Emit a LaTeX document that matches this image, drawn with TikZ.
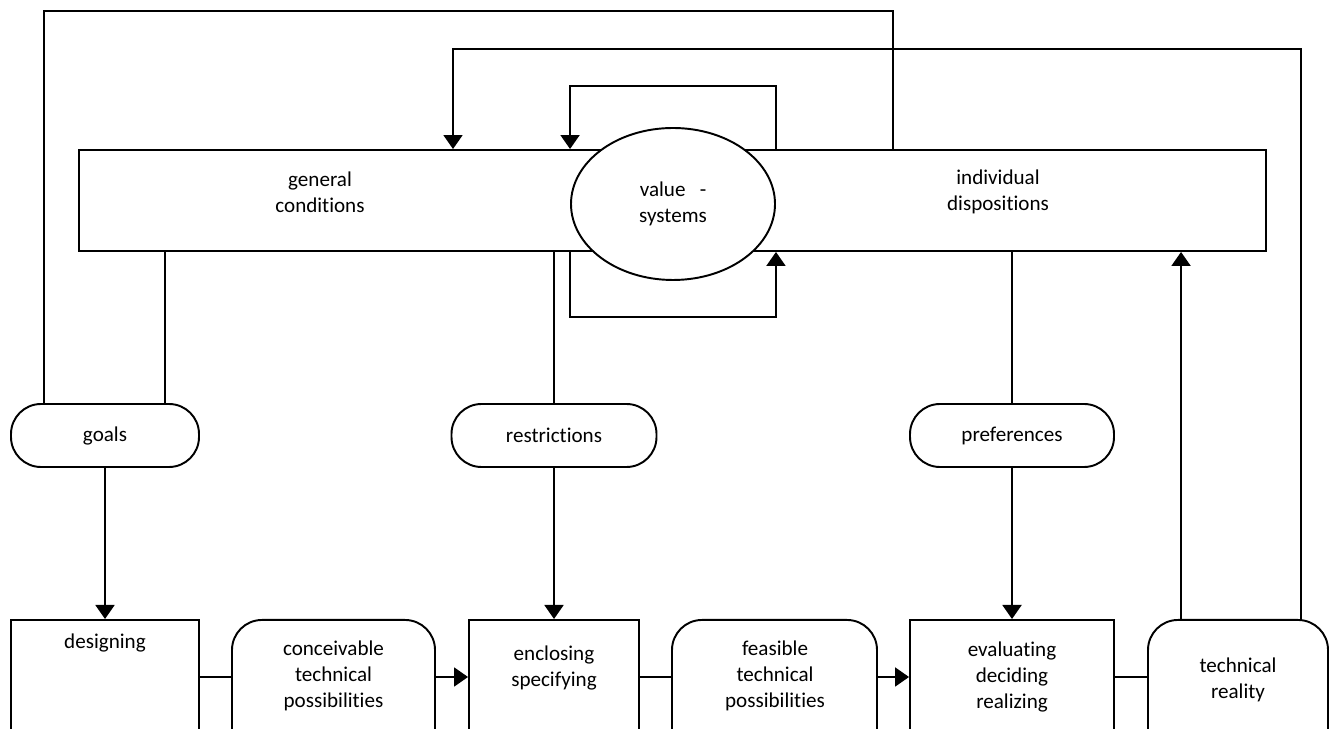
\documentclass[tikz,border=0pt]{standalone}
\usepackage{fontspec}
\setmainfont[Ligatures=NoCommon]{Carlito}
\usepackage{tikz}
\usetikzlibrary{arrows.meta,positioning,calc,shapes.geometric}
\pgfdeclarelayer{bg}
\pgfsetlayers{bg,main}

\begin{document}
\begin{tikzpicture}[scale=1, line width=1.1pt,
    every node/.style={font=\fontsize{12}{14.8}\selectfont, align=center},
    box/.style={draw, inner sep=0pt},
    pill/.style={draw, rounded corners=0.6cm, inner sep=0pt},
    low/.style={anchor=north, minimum height=3.2cm},
    arr/.style={-{Triangle[width=0.38cm,length=0.28cm]}}]

    \useasboundingbox (0,0) rectangle (26.82,14.58);
    \clip (0,0) rectangle (26.82,14.58);

    % upper block
    \node [box, minimum width=23.74cm, minimum height=2.02cm] (frame) at (13.45,10.57) {};
    \node (gencond) at (6.4,10.74) {general\\conditions};
    \node (indisp) at (19.96,10.74) {individual\\dispositions};
    \node [draw, ellipse, fill=white, minimum width=4.08cm, minimum height=3.04cm, inner sep=0pt] (val) at (13.46,10.5) {value\ \ \ -\\systems};

    % middle row
    \node [pill, minimum width=3.76cm, minimum height=1.26cm] (goals) at (2.1,5.87) {goals};
    \node [pill, minimum width=4.1cm, minimum height=1.26cm] (restr) at (11.08,5.87) {restrictions};
    \node [pill, minimum width=4.08cm, minimum height=1.26cm] (pref) at (20.24,5.87) {preferences};

    % lower row
    \node [box, low, minimum width=3.76cm] (design) at (2.1,2.2) {};
    \node [pill, low, minimum width=4.06cm] (conc) at (6.67,2.2) {};
    \node [box, low, minimum width=3.4cm] (encl) at (11.08,2.2) {};
    \node [pill, low, minimum width=4.1cm] (feas) at (15.49,2.2) {};
    \node [box, low, minimum width=4.08cm] (eval) at (20.24,2.2) {};
    \node [pill, low, minimum width=3.6cm] (tech) at (24.76,2.2) {};
    \node (designtxt) at (2.1,1.72) {designing};
    \node (conctxt) at (6.67,1.06) {conceivable\\technical\\possibilities};
    \node (encltxt) at (11.08,1.23) {enclosing\\specifying};
    \node (feastxt) at (15.5,1.07) {feasible\\technical\\possibilities};
    \node (evaltxt) at (20.24,1.05) {evaluating\\deciding\\realizing};
    \node (techtxt) at (24.76,0.99) {technical\\reality};

    \coordinate (row) at (0,1.04);
    \coordinate (topA) at (17.86,14.36);
    \coordinate (topB) at (9.06,13.6);
    \coordinate (g1) at ([xshift=0.68cm]goals.north west);
    \coordinate (g2) at ([xshift=-0.7cm]goals.north east);
    \coordinate (t1) at ([xshift=0.68cm]tech.north west);
    \coordinate (t2) at ([xshift=-0.56cm]tech.north east);

    \begin{pgfonlayer}{bg}    % connectors behind the shapes
    \begin{scope}[line width=1.1pt]
        \draw (g1) |- (topA) -- (topA |- frame.north);
        \draw[arr] (t2) |- (topB) -- (topB |- frame.north);
        \draw (g2) -- (g2 |- frame.south);
        \draw (restr.north) -- (restr.north |- frame.south);
        \draw (pref.north) -- (pref.north |- frame.south);
        \draw[arr] (val.east |- frame.north) -- ++(0,1.26) -| (val.west |- frame.north);
        \draw[arr] (val.west |- frame.south) -- ++(0,-1.3) -| (val.east |- frame.south);
        \draw[arr] (goals.south) -- (design.north);
        \draw[arr] (restr.south) -- (encl.north);
        \draw[arr] (pref.south) -- (eval.north);
        \draw[arr] (t1) -- (t1 |- frame.south);
        \draw (design.east |- row) -- (conc.west |- row);
        \draw[arr] (conc.east |- row) -- (encl.west |- row);
        \draw (encl.east |- row) -- (feas.west |- row);
        \draw[arr] (feas.east |- row) -- (eval.west |- row);
        \draw (eval.east |- row) -- (tech.west |- row);
    \end{scope}
    \end{pgfonlayer}
\end{tikzpicture}
\end{document}
